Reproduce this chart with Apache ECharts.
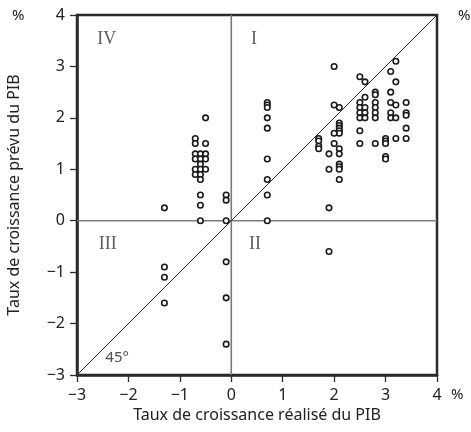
<!DOCTYPE html>
<html>
<head>
<meta charset="utf-8">
<style>
  html, body { margin: 0; padding: 0; background: #fff; }
  #chart { width: 471px; height: 432px; }
</style>
<script src="https://cdn.jsdelivr.net/npm/echarts@6/dist/echarts.min.js"></script>
</head>
<body>
<div id="chart"></div>
<script>
// Realised GDP growth (x) and forecast GDP growth (y), in %
const realised = [
  -1.3, -0.7, -0.7, -0.7, -0.7, -0.7, -0.7, -0.6, -0.6, -0.6, -0.6, -0.6, -0.6,
  -0.5, -0.5, -0.5, -0.5, -0.5, -0.6, -0.6, -0.6, -0.1, -0.1, -0.1,
  -1.3, -1.3, -1.3, -0.1, -0.1, -0.1,
  0.7, 0.7, 0.7, 0.7, 0.7, 0.7, 0.7, 0.7, 0.7,
  1.7, 1.7, 1.7, 1.7,
  2.0, 2.0, 2.1, 2.1, 2.1, 2.1, 2.1, 2.1, 2.0, 2.0, 2.1, 2.1, 1.9, 1.9,
  2.1, 2.1, 2.1, 2.1, 1.9, 1.9,
  2.5, 2.6, 3.2, 3.1, 3.2, 2.6, 2.5,
  2.5, 2.5, 2.5, 2.6, 2.6, 2.6,
  2.8, 2.8, 2.8, 2.8, 2.8, 2.8,
  3.1, 3.1, 3.1, 3.1, 3.2, 3.2,
  3.4, 3.4, 3.4, 3.4, 3.4,
  2.5, 2.5, 2.8, 3.0, 3.0, 3.0, 3.2, 3.0, 3.0
];
const forecast = [
  0.25, 1.6, 1.5, 1.3, 1.2, 1.0, 0.9, 1.3, 1.2, 1.1, 1.0, 0.9, 0.8,
  2.0, 1.5, 1.3, 1.2, 1.0, 0.5, 0.3, 0.0, 0.5, 0.4, 0.0,
  -0.9, -1.1, -1.6, -0.8, -1.5, -2.4,
  2.3, 2.25, 2.2, 2.0, 1.8, 1.2, 0.8, 0.5, 0.0,
  1.6, 1.55, 1.45, 1.4,
  3.0, 2.25, 2.2, 1.9, 1.85, 1.8, 1.75, 1.7, 1.7, 1.5, 1.4, 1.3, 1.3, 1.0,
  1.1, 1.05, 1.0, 0.8, 0.25, -0.6,
  2.8, 2.7, 3.1, 2.9, 2.7, 2.4, 2.3,
  2.2, 2.1, 2.0, 2.2, 2.1, 2.0,
  2.5, 2.45, 2.3, 2.2, 2.1, 2.0,
  2.5, 2.3, 2.1, 2.0, 2.25, 2.0,
  2.3, 2.1, 2.05, 1.8, 1.6,
  1.75, 1.5, 1.5, 1.6, 1.55, 1.5, 1.6, 1.25, 1.2
];

// Axis range and ticks (both axes share the same scale)
const axisMin = -3;
const axisMax = 4;
const tickStep = 1;

// Quadrant labels and the 45° bisector tag, placed in data units
const quadrantLabels = [
  { name: 'IV',  at: [-2.42, 3.52] },
  { name: 'I',   at: [0.44, 3.52] },
  { name: 'III', at: [-2.4, -0.45] },
  { name: 'II',  at: [0.46, -0.45] }
];
const bisectorTag = { name: '45°', at: [-2.22, -2.66] };

const points = realised.map((x, i) => [x, forecast[i]]);
const minus = v => String(v).replace('-', '\u2212');

const sans = '"Noto Sans", sans-serif';
const ink = '#2a2a2a';

const axisCommon = {
  type: 'value',
  min: axisMin,
  max: axisMax,
  interval: tickStep,
  splitLine: { show: false },
  axisLine: { show: true, onZero: false, lineStyle: { color: ink, width: 2.5 } },
  axisTick: { show: true, inside: false, length: 7, lineStyle: { color: ink, width: 1.3 } },
  axisLabel: { color: '#222', fontFamily: sans, fontSize: 16, margin: 12, formatter: minus },
  nameLocation: 'middle',
  nameTextStyle: { color: '#222', fontFamily: sans, fontSize: 16 }
};

const chart = echarts.init(document.getElementById('chart'), null, { renderer: 'canvas' });

chart.setOption({
  animation: false,
  backgroundColor: '#fff',
  grid: {
    left: 77, top: 15, right: 34, bottom: 57,
    containLabel: false,
    outerBoundsMode: 'none',
    show: true, borderColor: ink, borderWidth: 2.5, backgroundColor: 'transparent'
  },
  xAxis: Object.assign({}, axisCommon, {
    name: 'Taux de croissance réalisé du PIB',
    nameGap: 32
  }),
  yAxis: Object.assign({}, axisCommon, {
    name: 'Taux de croissance prévu du PIB',
    nameGap: 55
  }),
  series: [
    {
      // vertical zero line
      type: 'line',
      data: [[0, axisMin], [0, axisMax]],
      symbol: 'none', silent: true, z: 1,
      lineStyle: { color: '#7a7a7a', width: 1.6 }
    },
    {
      // horizontal zero line
      type: 'line',
      data: [[axisMin, 0], [axisMax, 0]],
      symbol: 'none', silent: true, z: 1,
      lineStyle: { color: '#7a7a7a', width: 1.6 }
    },
    {
      // 45° bisector
      type: 'line',
      data: [[axisMin, axisMin], [axisMax, axisMax]],
      symbol: 'none', silent: true, z: 1,
      lineStyle: { color: '#333', width: 1 }
    },
    {
      type: 'scatter',
      data: points,
      symbol: 'circle',
      symbolSize: 5.5,
      z: 3,
      itemStyle: { color: '#fff', borderColor: '#1a1a1a', borderWidth: 1.6, opacity: 1 }
    },
    {
      // quadrant numerals
      type: 'scatter',
      data: quadrantLabels.map(q => ({ value: q.at, name: q.name })),
      symbolSize: 0, silent: true, z: 4,
      label: {
        show: true, position: 'inside', formatter: '{b}',
        fontFamily: '"Liberation Serif", "Times New Roman", serif',
        fontSize: 18, color: '#333'
      }
    },
    {
      type: 'scatter',
      data: [{ value: bisectorTag.at, name: bisectorTag.name }],
      symbolSize: 0, silent: true, z: 4,
      label: {
        show: true, position: 'inside', formatter: '{b}',
        fontFamily: sans, fontSize: 15, color: '#222'
      }
    }
  ],
  graphic: [
    { type: 'text', left: 12, top: 8, style: { text: '%', font: '15px ' + sans, fill: '#222' } },
    { type: 'text', left: 458, top: 8, style: { text: '%', font: '15px ' + sans, fill: '#222' } },
    { type: 'text', left: 451, top: 387, style: { text: '%', font: '15px ' + sans, fill: '#222' } }
  ]
});
</script>
</body>
</html>
